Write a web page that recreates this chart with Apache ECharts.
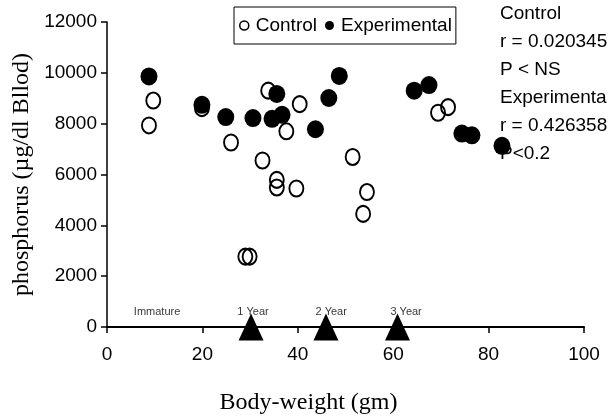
<!DOCTYPE html>
<html>
<head>
<meta charset="utf-8">
<script src="https://cdn.jsdelivr.net/npm/echarts@6/dist/echarts.min.js"></script>
<style>
  html, body { margin: 0; padding: 0; background: #fff; }
  #chart { width: 611px; height: 420px; }
</style>
</head>
<body>
<div id="chart"></div>
<script>
// body weight (gm) vs phosphorus
const controlPts = [
  [8.8, 7930], [9.7, 8910], [19.9, 8610], [26.0, 7260], [29.0, 2770],
  [29.9, 2770], [32.6, 6550], [33.8, 9300], [35.6, 5790], [35.6, 5490],
  [37.6, 7700], [39.7, 5450], [40.4, 8770], [51.5, 6690], [53.7, 4450],
  [54.5, 5310], [69.4, 8430], [71.5, 8650]
];
const experimentalPts = [
  [8.8, 9860], [19.9, 8740], [24.9, 8260], [30.6, 8220], [34.6, 8190],
  [35.6, 9170], [36.7, 8350], [43.7, 7780], [46.5, 9010], [48.7, 9880],
  [64.4, 9300], [67.5, 9520], [74.4, 7610], [76.5, 7540], [82.8, 7130]
];
// age markers on the x axis
const ageMarkX = [30.2, 45.9, 60.9];
const ageLabels = [
  { name: "Immature", value: [10.5, 600] },
  { name: "1 Year", value: [30.6, 600] },
  { name: "2 Year", value: [47, 600] },
  { name: "3 Year", value: [62.7, 600] }
];
const statLines = [
  "Control", "r = 0.020345", "P < NS",
  "Experimenta", "r = 0.426358", "P<0.2"
];

const SANS = "Liberation Sans, Arial, sans-serif";
const SERIF = "Liberation Serif, Times New Roman, serif";

const chart = echarts.init(document.getElementById("chart"));

const option = {
  animation: false,
  backgroundColor: "#fff",
  grid: { left: 107, right: 27, top: 22, bottom: 90 },
  legend: {
    left: 234,
    top: 7,
    padding: [9, 4, 9, 5],
    borderColor: "#000",
    borderWidth: 1,
    itemGap: 8,
    itemWidth: 9,
    itemHeight: 9,
    textStyle: { fontFamily: SANS, fontSize: 19, color: "#000", padding: [0, 0, 0, 2] },
    data: [
      { name: "Control", icon: "circle", itemStyle: { color: "#fff", borderColor: "#000", borderWidth: 1.5 } },
      { name: "Experimental", icon: "circle", itemStyle: { color: "#000", opacity: 1 } }
    ]
  },
  xAxis: {
    type: "value",
    min: 0,
    max: 100,
    interval: 20,
    name: "Body-weight (gm)",
    nameLocation: "middle",
    nameGap: 64,
    nameTextStyle: { fontFamily: SERIF, fontSize: 24, color: "#000", padding: [0, 74, 0, 0] },
    axisLine: { lineStyle: { color: "#000", width: 2 } },
    axisTick: { length: 6, lineStyle: { color: "#000", width: 1.5 } },
    axisLabel: { fontFamily: SANS, fontSize: 19, color: "#000", margin: 18 },
    splitLine: { show: false }
  },
  yAxis: {
    type: "value",
    min: 0,
    max: 12000,
    interval: 2000,
    name: "phosphorus (\u00b5g/dl Bllod)",
    nameLocation: "middle",
    nameRotate: 90,
    nameGap: 68,
    nameTextStyle: { fontFamily: SERIF, fontSize: 24, color: "#000" },
    axisLine: { show: true, lineStyle: { color: "#000", width: 1.5 } },
    axisTick: { show: true, length: 6, lineStyle: { color: "#000", width: 1.5 } },
    axisLabel: { fontFamily: SANS, fontSize: 19, color: "#000", margin: 10, formatter: v => String(v) },
    splitLine: { show: false }
  },
  graphic: statLines.map((t, i) => ({
    type: "text",
    left: 500,
    top: 4 + i * 28,
    z: 0,
    silent: true,
    style: { text: t, fontFamily: SANS, fontSize: 19, fill: "#000" }
  })),
  series: [
    {
      name: "Control",
      type: "scatter",
      z: 3,
      symbol: "circle",
      symbolSize: [14, 16],
      itemStyle: { color: "transparent", borderColor: "#000", borderWidth: 2, opacity: 1 },
      data: controlPts
    },
    {
      name: "Experimental",
      type: "scatter",
      z: 4,
      symbol: "circle",
      symbolSize: [17, 18],
      itemStyle: { color: "#000", opacity: 1 },
      data: experimentalPts
    },
    {
      name: "age",
      type: "scatter",
      z: 5,
      symbol: "triangle",
      symbolSize: [25, 27],
      itemStyle: { color: "#000", opacity: 1 },
      clip: false,
      data: ageMarkX.map(x => [x, 0])
    },
    {
      name: "ageText",
      type: "scatter",
      z: 5,
      symbolSize: 1,
      itemStyle: { color: "transparent" },
      label: {
        show: true,
        position: "inside",
        formatter: p => p.name,
        fontFamily: SANS,
        fontSize: 11,
        color: "#000"
      },
      data: ageLabels
    }
  ]
};

chart.setOption(option);
</script>
</body>
</html>
